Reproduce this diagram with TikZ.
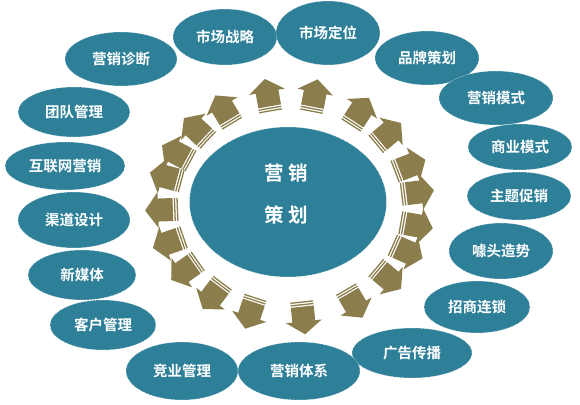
\documentclass[tikz,border=0pt]{standalone}
\usepackage{fontspec}
\newfontfamily\cjk{Noto Sans CJK SC}[BoldFont={Noto Sans CJK SC Bold}]
\usetikzlibrary{shapes.geometric}

\definecolor{ringteal}{RGB}{46,128,153}
\definecolor{arrowkhaki}{RGB}{139,126,76}

\tikzset{
  topic/.style={ellipse, fill=ringteal, draw=white, densely dotted, line width=0.5pt,
    text=white, inner sep=0pt, font=\cjk\bfseries\fontsize{14.5}{16}\selectfont},
  hub/.style={ellipse, fill=ringteal, draw=white, densely dotted, line width=0.5pt,
    minimum width=197pt, minimum height=150pt, inner sep=0pt},
  hubtext/.style={text=white, align=center, inner sep=0pt,
    font=\cjk\bfseries\fontsize{19.5}{42}\selectfont}
}

\begin{document}
\begin{tikzpicture}[x=1pt, y=1pt, line join=round]
	\useasboundingbox (0,0) rectangle (580,404);
	% ring of arrows
	\foreach \a in {79,100,121,137,152,165,182,199,215,233,252,276,300,320,336,350,7,21,40,57}{
		\begin{scope}[shift={({290+112*cos(\a)},{198+96*sin(\a)})}, rotate=\a-90]
			\fill[arrowkhaki] (-11.5,0) rectangle (11.5,1.3);
			\fill[arrowkhaki] (-11.5,2.6) rectangle (11.5,3.9);
			\fill[arrowkhaki] (-11.5,5.2) rectangle (11.5,20.5);
			\fill[arrowkhaki] (-18,20) -- (18,20) -- (0,33) -- cycle;
		\end{scope}
	}
	% centre
	\node[hub] (core) at (288,202) {};
	\node[hubtext] (coretext) at (286,210) {营\hspace{5pt}销\\策\hspace{5pt}划};
	% outer topics
	\foreach \nm/\px/\py/\w/\h/\txt in {
		diag/121/345/112/54/营销诊断,
		strat/225/367/104/56/市场战略,
		posit/328/371/104/64/市场定位,
		brand/427/346/104/54/品牌策划,
		mmode/496/306/114/54/营销模式,
		bmode/520/257/104/46/商业模式,
		promo/519/208/104/48/主题促销,
		hype/501/153/104/56/噱头造势,
		chain/477/97/106/52/招商连锁,
		advert/412/51/120/50/广告传播,
		system/299/33/122/58/营销体系,
		rival/182/33/112/58/竞业管理,
		client/103/79/106/50/客户管理,
		media/82/129/108/50/新媒体,
		channel/74/184/112/56/渠道设计,
		web/65/238/120/48/互联网营销,
		team/74/292/112/50/团队管理}
		\node[topic, minimum width=\w pt, minimum height=\h pt] (\nm) at (\px,\py) {\txt};
\end{tikzpicture}
\end{document}
